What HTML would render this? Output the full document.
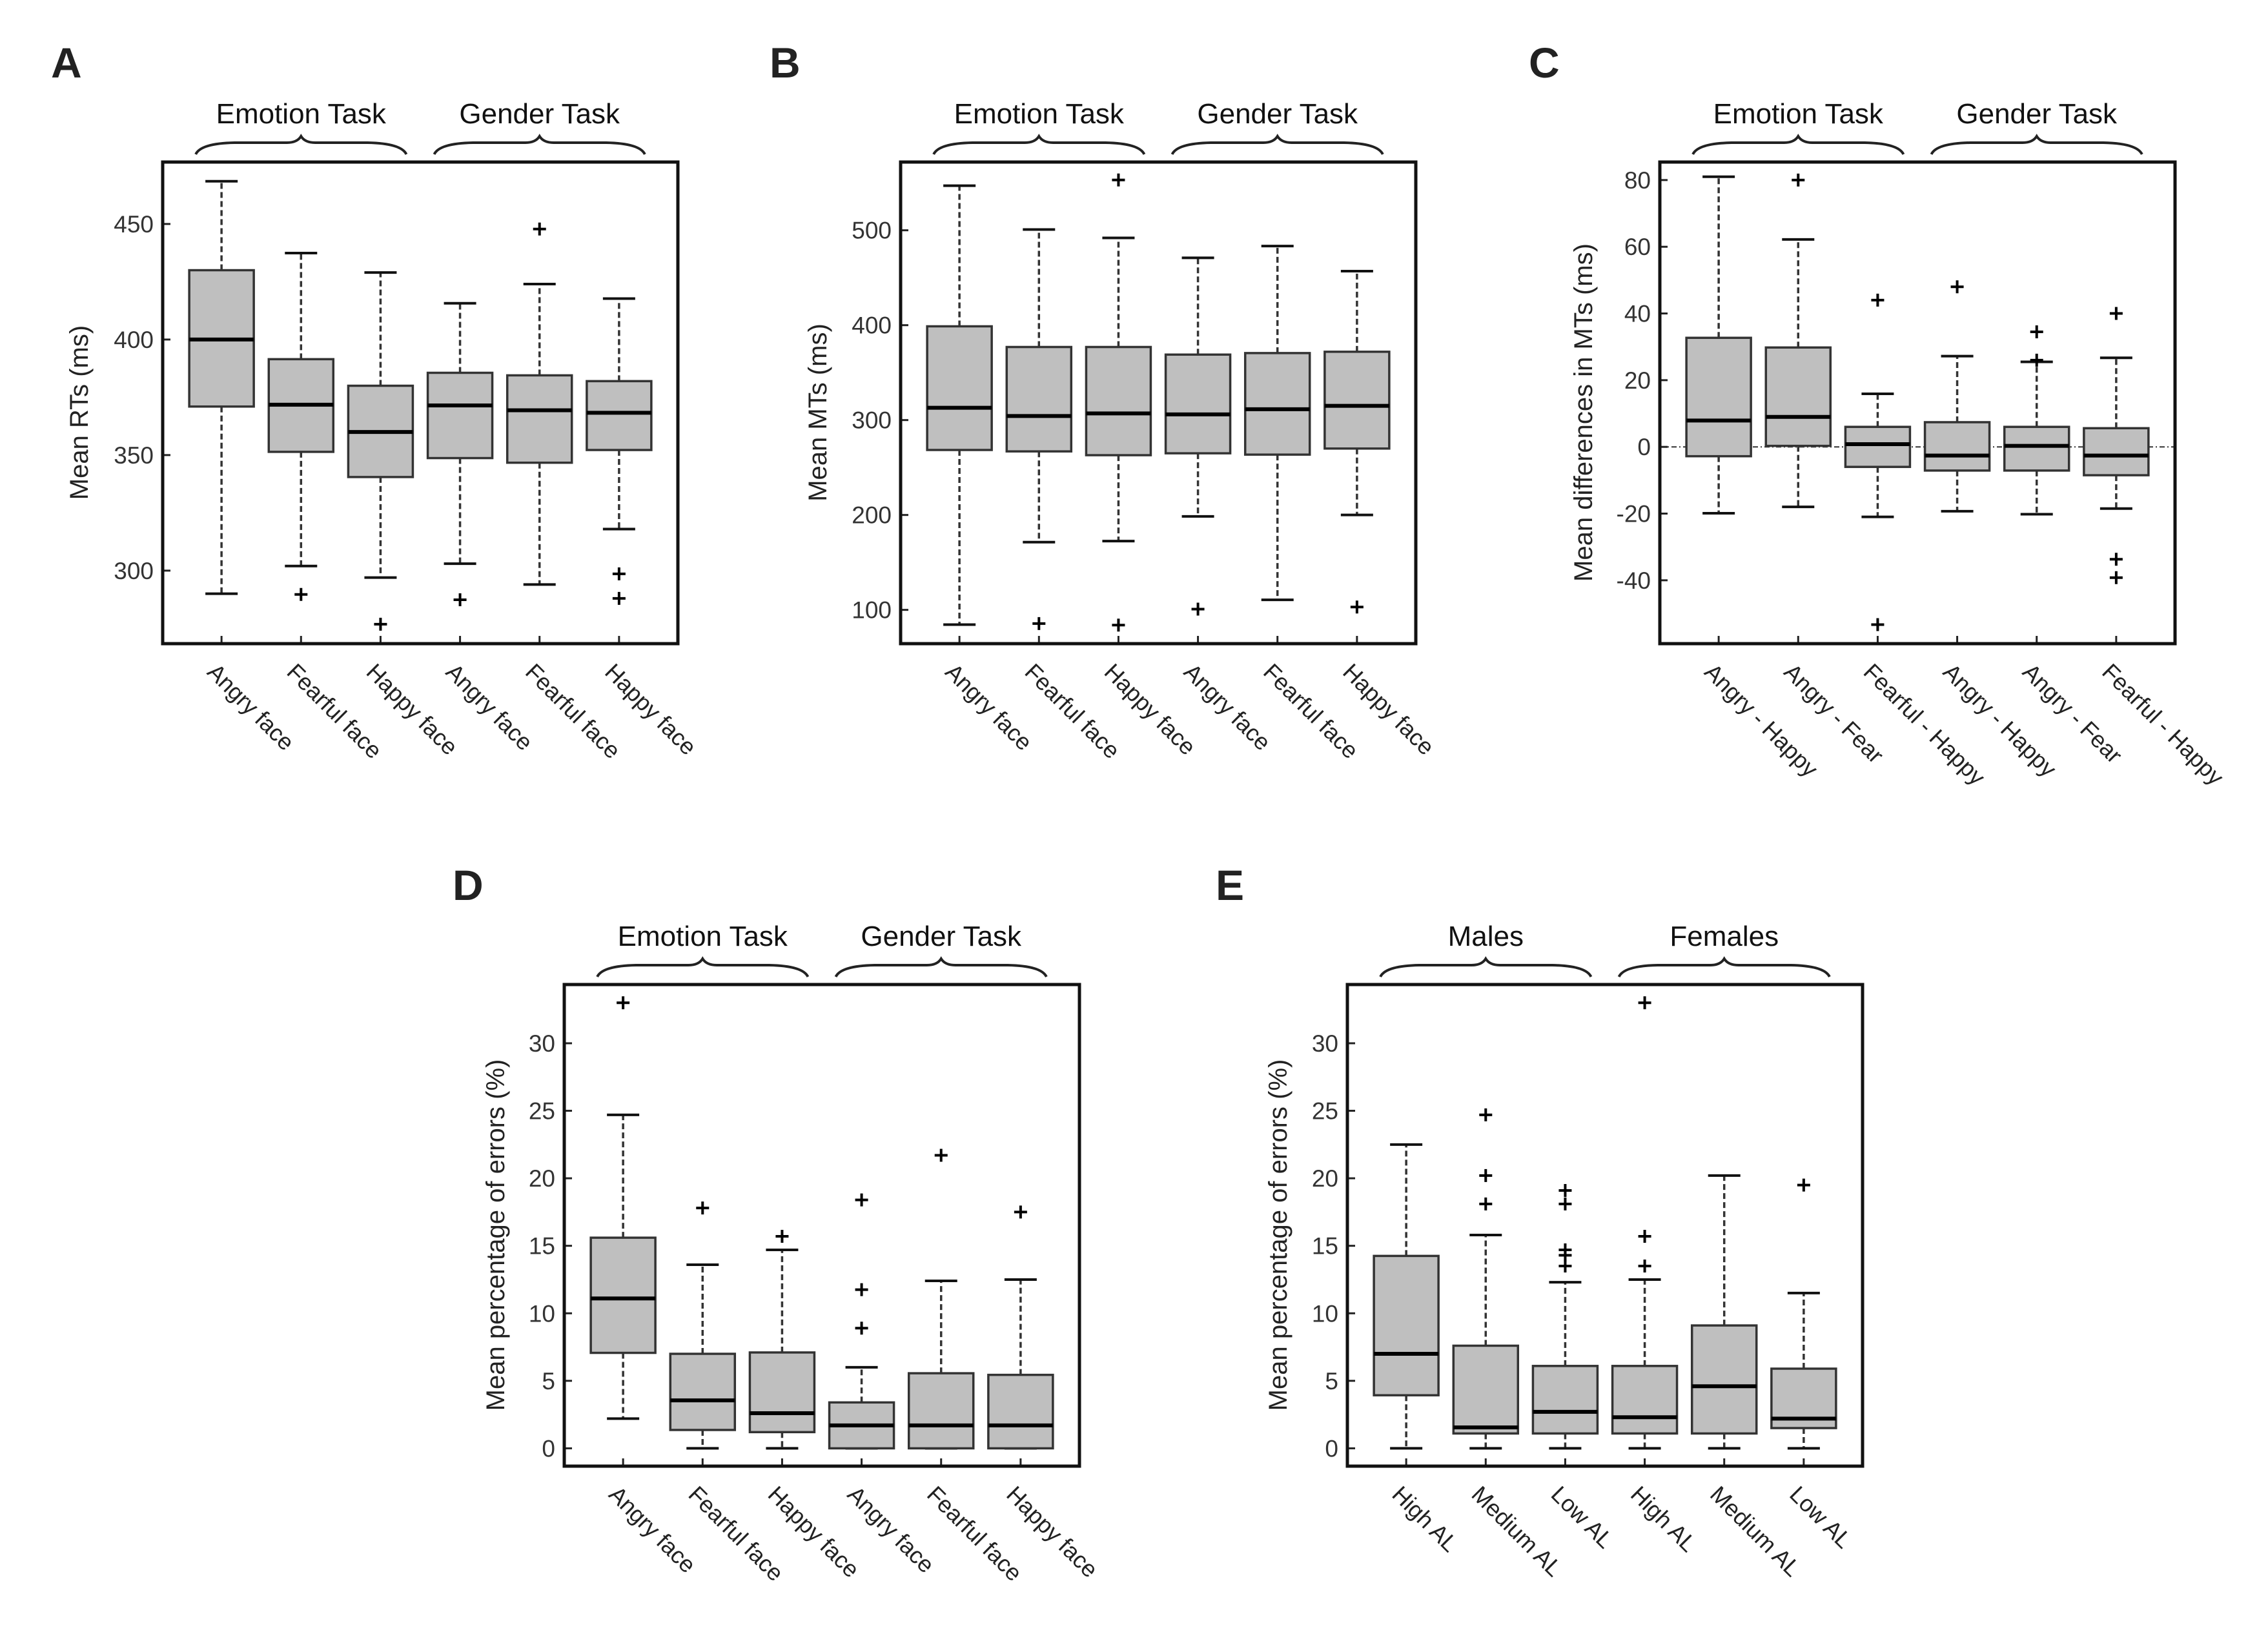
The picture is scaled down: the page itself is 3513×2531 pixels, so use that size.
<!DOCTYPE html>
<html><head><meta charset="utf-8"><style>
html,body{margin:0;padding:0;background:#fff;}
svg{display:block;font-family:"Liberation Sans",Arial,sans-serif;}
</style></head><body>
<svg id="fig" width="3513" height="2531" viewBox="0 0 3513 2531" xmlns="http://www.w3.org/2000/svg">
<rect width="3513" height="2531" fill="#fff"/>
</svg>
<script>
// ---------- Panel A data ----------
const aCategories = ["Angry face","Fearful face","Happy face","Angry face","Fearful face","Happy face"];
const aGroups = ["Emotion Task","Gender Task"];
const aLow = [290,302,297,303,294,318];
const aQ1 = [371,351.4,340.5,348.7,346.7,352.2];
const aMedian = [400,371.8,360,371.5,369.4,368.3];
const aQ3 = [430,391.5,380,385.6,384.5,382];
const aHigh = [468.5,437.4,429,415.7,424,417.7];
const aOutliers = [[],[289.7],[276.8],[287.4],[447.8],[298.6,288]];
const aTicks = [300,350,400,450];
// ---------- Panel B data ----------
const bCategories = ["Angry face","Fearful face","Happy face","Angry face","Fearful face","Happy face"];
const bGroups = ["Emotion Task","Gender Task"];
const bLow = [84.5,171.4,172.5,198.5,110.6,200];
const bQ1 = [268.5,267,263,265,263.6,270];
const bMedian = [313,304.3,307,306,311.4,315];
const bQ3 = [398.8,377,377,369,370.6,372];
const bHigh = [547,500.8,492,471,483.4,456.9];
const bOutliers = [[],[85.6],[553,84],[100.8],[],[103]];
const bTicks = [100,200,300,400,500];
// ---------- Panel C data ----------
const cCategories = ["Angry - Happy","Angry - Fear","Fearful - Happy","Angry - Happy","Angry - Fear","Fearful - Happy"];
const cGroups = ["Emotion Task","Gender Task"];
const cLow = [-19.9,-18,-21,-19.3,-20.2,-18.5];
const cQ1 = [-2.8,0.3,-6,-7.1,-7.1,-8.5];
const cMedian = [7.9,9,0.8,-2.6,0.3,-2.6];
const cQ3 = [32.7,29.8,6,7.4,6,5.6];
const cHigh = [81,62.2,15.9,27.2,25.5,26.7];
const cOutliers = [[],[80],[44,-53.3],[48],[34.5,26],[40,-33.7,-39.2]];
const cTicks = [-40,-20,0,20,40,60,80];
// ---------- Panel D data ----------
const dCategories = ["Angry face","Fearful face","Happy face","Angry face","Fearful face","Happy face"];
const dGroups = ["Emotion Task","Gender Task"];
const dLow = [2.2,0,0,0,0,0];
const dQ1 = [7.07,1.36,1.2,0,0,0];
const dMedian = [11.1,3.55,2.6,1.7,1.7,1.7];
const dQ3 = [15.6,7.0,7.1,3.4,5.56,5.44];
const dHigh = [24.7,13.6,14.7,6.0,12.4,12.5];
const dOutliers = [[33],[17.8],[15.7],[18.4,11.75,8.9],[21.7],[17.5]];
const dTicks = [0,5,10,15,20,25,30];
// ---------- Panel E data ----------
const eCategories = ["High AL","Medium AL","Low AL","High AL","Medium AL","Low AL"];
const eGroups = ["Males","Females"];
const eLow = [0,0,0,0,0,0];
const eQ1 = [3.93,1.1,1.1,1.1,1.1,1.5];
const eMedian = [7.0,1.55,2.7,2.3,4.6,2.2];
const eQ3 = [14.25,7.6,6.1,6.1,9.1,5.9];
const eHigh = [22.5,15.8,12.3,12.5,20.2,11.5];
const eOutliers = [[],[24.7,20.2,18.1],[19.1,18.1,14.7,14.3,13.5],[33,15.7,13.5],[],[19.5]];
const eTicks = [0,5,10,15,20,25,30];

const NS = "http://www.w3.org/2000/svg";
const svg = document.getElementById("fig");
function mk(tag, attrs, parent){
  const e = document.createElementNS(NS, tag);
  for (const k in attrs) e.setAttribute(k, attrs[k]);
  (parent||svg).appendChild(e);
  return e;
}

function drawPanel(p){
  const g = mk("g", {});
  
  
  const L = p.left, R = p.left + 798, T = p.top, B = p.top + 746;
  const y = v => B - (v - p.ymin) / (p.ymax - p.ymin) * (B - T);
  const x = i => L + (i + 1 - 0.26) / 6.48 * 798;

  // panel letter
  const lt = mk("text", {x:p.letterX, y:T-131, "font-size":66, "font-weight":"bold", fill:"#222"}, g);
  lt.textContent = p.letter;
  
  

  // group labels and braces
  for (let k = 0; k < 2; k++){
    const xa = x(3*k) - 40, xb = x(3*k+2) + 40, cx = (xa + xb) / 2;
    const gl = mk("text", {x:cx, y:T-60, "font-size":44, "text-anchor":"middle", fill:"#111"}, g);
    gl.textContent = p.groups[k];
    
    
    const br = mk("path", {d:`M${xa},${T-12} Q${xa+8},${T-29} ${xa+60},${T-30} L${cx-22},${T-30} Q${cx-6},${T-30} ${cx},${T-40} Q${cx+6},${T-30} ${cx+22},${T-30} L${xb-60},${T-30} Q${xb-8},${T-29} ${xb},${T-12}`, fill:"none", stroke:"#222", "stroke-width":4}, g);
    
    
  }

  // zero line for C
  if (p.zeroLine){
    const zl = mk("line", {x1:L, x2:R, y1:y(0), y2:y(0), stroke:"#333", "stroke-width":2, "stroke-dasharray":"8,4,2,4"}, g);
    
    
  }

  // y ticks
  p.ticks.forEach(t => {
    const tl = mk("line", {x1:L, x2:L+12, y1:y(t), y2:y(t), stroke:"#222", "stroke-width":3}, g);
    
    
    const tx = mk("text", {x:L-14, y:y(t)+13, "font-size":37, "text-anchor":"end", fill:"#333"}, g);
    tx.textContent = t;
    
    
  });

  // y axis title
  const cy = (T + B) / 2 + 15;
  const yt = mk("text", {x:L-p.ylabOff, y:cy, "font-size":40, "text-anchor":"middle", fill:"#222", transform:`rotate(-90 ${L-p.ylabOff} ${cy})`}, g);
  yt.textContent = p.ylabel;
  
  

  // boxes
  for (let i = 0; i < 6; i++){
    const cx = x(i);
    const bg = mk("g", {}, g);
    
    
    // whiskers
    if (p.high[i] > p.q3[i]) {
      const w1 = mk("line", {x1:cx, x2:cx, y1:y(p.q3[i]), y2:y(p.high[i]), stroke:"#333", "stroke-width":3.5, "stroke-dasharray":"9,5"}, bg);
      
      
    }
    if (p.low[i] < p.q1[i]) {
      const w2 = mk("line", {x1:cx, x2:cx, y1:y(p.q1[i]), y2:y(p.low[i]), stroke:"#333", "stroke-width":3.5, "stroke-dasharray":"9,5"}, bg);
      
      
    }
    const c1 = mk("line", {x1:cx-25, x2:cx+25, y1:y(p.high[i]), y2:y(p.high[i]), stroke:"#111", "stroke-width":4}, bg);
    
    
    const c2 = mk("line", {x1:cx-25, x2:cx+25, y1:y(p.low[i]), y2:y(p.low[i]), stroke:"#111", "stroke-width":4}, bg);
    
    
    const rb = mk("rect", {x:cx-50, y:y(p.q3[i]), width:100, height:Math.max(0, y(p.q1[i]) - y(p.q3[i])), fill:"#bfbfbf", stroke:"#333", "stroke-width":3.5}, bg);
    
    
    const md = mk("line", {x1:cx-50, x2:cx+50, y1:y(p.median[i]), y2:y(p.median[i]), stroke:"#000", "stroke-width":6}, bg);
    
    
    p.outliers[i].forEach(v => {
      const o = mk("path", {d:`M${cx-10},${y(v)} h20 M${cx},${y(v)-10} v20`, stroke:"#000", "stroke-width":4}, bg);
      
      
    });
    // x tick
    const xt = mk("line", {x1:cx, x2:cx, y1:B, y2:B-12, stroke:"#222", "stroke-width":3}, g);
    
    
    const px = cx - 24, py = B + 46;
    const xl = mk("text", {x:px, y:py, "font-size":36, fill:"#222", transform:`rotate(45 ${px} ${py})`}, g);
    xl.textContent = p.categories[i];
    
    
  }

  // frame
  const fr = mk("rect", {x:L, y:T, width:798, height:746, fill:"none", stroke:"#111", "stroke-width":5}, g);
  
  
}

drawPanel({letter:"A", letterX:79, left:252, top:251, ymin:268.4, ymax:476.8, ticks:aTicks, ylabel:"Mean RTs (ms)", ylabOff:116,
  categories:aCategories, groups:aGroups, low:aLow, q1:aQ1, median:aMedian, q3:aQ3, high:aHigh, outliers:aOutliers});
drawPanel({letter:"B", letterX:1192, left:1395, top:251, ymin:64.4, ymax:571.9, ticks:bTicks, ylabel:"Mean MTs (ms)", ylabOff:115,
  categories:bCategories, groups:bGroups, low:bLow, q1:bQ1, median:bMedian, q3:bQ3, high:bHigh, outliers:bOutliers});
drawPanel({letter:"C", letterX:2368, left:2571, top:251, ymin:-59, ymax:85.4, ticks:cTicks, ylabel:"Mean differences in MTs (ms)", ylabOff:105, zeroLine:true,
  categories:cCategories, groups:cGroups, low:cLow, q1:cQ1, median:cMedian, q3:cQ3, high:cHigh, outliers:cOutliers});
drawPanel({letter:"D", letterX:701, left:874, top:1525, ymin:-1.32, ymax:34.35, ticks:dTicks, ylabel:"Mean percentage of errors (%)", ylabOff:93,
  categories:dCategories, groups:dGroups, low:dLow, q1:dQ1, median:dMedian, q3:dQ3, high:dHigh, outliers:dOutliers});
drawPanel({letter:"E", letterX:1883, left:2087, top:1525, ymin:-1.32, ymax:34.35, ticks:eTicks, ylabel:"Mean percentage of errors (%)", ylabOff:94,
  categories:eCategories, groups:eGroups, low:eLow, q1:eQ1, median:eMedian, q3:eQ3, high:eHigh, outliers:eOutliers});
</script>
</body></html>
